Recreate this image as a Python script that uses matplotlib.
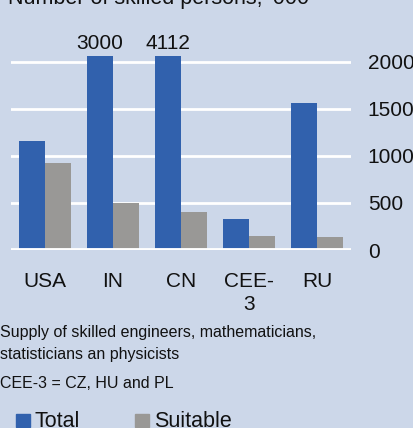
import matplotlib
matplotlib.use("Agg")
import matplotlib.pyplot as plt
from matplotlib.patches import Rectangle

categories = ["USA", "IN", "CN", "CEE-\n3", "RU"]
total = [1160, 3000, 4112, 330, 1560]
suitable = [925, 500, 400, 150, 140]
yticks = [0, 500, 1000, 1500, 2000]
capped_labels = {1: "3000", 2: "4112"}

BG = "#CCD7E9"
BLUE = "#3161AD"
GREY = "#999896"
INK = "#111111"
W, H = 414, 428

plt.rcParams['font.family'] = ['Liberation Sans', 'DejaVu Sans']
fig = plt.figure(figsize=(W/100, H/100), dpi=100, facecolor=BG)

ax = fig.add_axes([11/W, (H-250)/H, 340/W, (250-56)/H])
ax.set_facecolor(BG)
ymax = 2060
ax.set_ylim(0, ymax)
ax.set_xlim(-0.5, len(categories)-0.5)

bw = 0.383
xs = list(range(len(categories)))
ax.bar([x - bw/2 for x in xs], [min(v, ymax) for v in total], width=bw, color=BLUE, zorder=3)
ax.bar([x + bw/2 for x in xs], suitable, width=bw, color=GREY, zorder=3)

for i, lab in capped_labels.items():
    ax.text(i - bw/2, ymax + 35, lab, ha='center', va='bottom', fontsize=15, color=INK, clip_on=False)

for s in ax.spines.values():
    s.set_visible(False)
for t in yticks:
    ax.axhline(t, color='white', lw=3.5 if t == 0 else 2, zorder=1 if t else 4)

ax.yaxis.tick_right()
ax.set_yticks(yticks)
ax.set_yticklabels([str(t) for t in yticks], fontsize=15, color=INK)
ax.tick_params(axis='y', length=0, pad=12)
ax.set_xticks(xs)
ax.set_xticklabels(categories, fontsize=15, color=INK, linespacing=1.25)
ax.tick_params(axis='x', length=0, pad=16)

fig.text(8/W, 1 - 4/H, "Number of skilled persons, '000", fontsize=15.5, color=INK, va='baseline', ha='left')
fig.text(0, 1 - 333/H, "Supply of skilled engineers, mathematicians,", fontsize=11.5, color=INK, va='center', ha='left')
fig.text(0, 1 - 354/H, "statisticians an physicists", fontsize=11.5, color=INK, va='center', ha='left')
fig.text(0, 1 - 384/H, "CEE-3 = CZ, HU and PL", fontsize=11.5, color=INK, va='center', ha='left')

fig.patches.append(Rectangle((16/W, 1 - 427/H), 14/W, 13/H, transform=fig.transFigure, color=BLUE))
fig.text(35/W, 1 - 427/H, "Total", fontsize=15.5, color=INK, va='baseline', ha='left')
fig.patches.append(Rectangle((135/W, 1 - 427/H), 14/W, 13/H, transform=fig.transFigure, color=GREY))
fig.text(154/W, 1 - 427/H, "Suitable", fontsize=15.5, color=INK, va='baseline', ha='left')

fig.savefig("out.png", dpi=100, facecolor=BG)
